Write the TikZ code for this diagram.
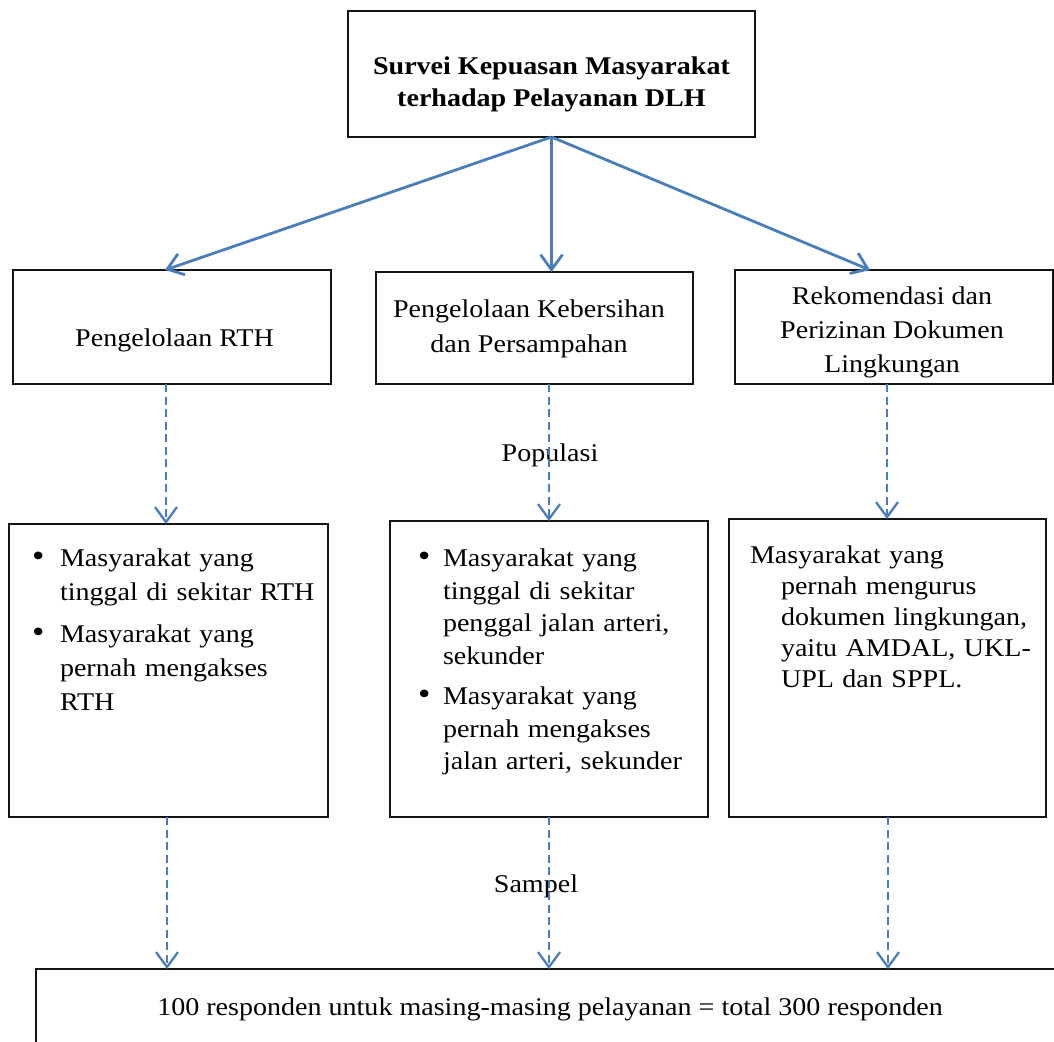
\documentclass[tikz,border=0pt]{standalone}
\usepackage{fontspec}
\setmainfont[FakeStretch=1.1]{Liberation Serif}
\usetikzlibrary{arrows.meta,calc}
\definecolor{arrowblue}{RGB}{74,126,187}
\definecolor{boxline}{RGB}{20,20,20}
\newcommand\bitem[2]{\hangindent=#1\hangafter=1\noindent\makebox[#1][l]{\fontsize{32}{32}\selectfont\textbullet}#2\par}
\begin{document}
\begin{tikzpicture}[x=1pt,y=-1pt,
  box/.style={draw=boxline, line width=1.3pt, inner sep=0pt, outer sep=0pt, fill=white},
  txt/.style={inner sep=0pt, outer sep=0pt, font=\fontsize{25.5}{34}\selectfont},
  solidarrow/.style={draw=arrowblue, line width=2.8pt, -{Straight Barb[length=15pt,width=22pt]}},
  dasharrow/.style={draw=arrowblue, line width=2.3pt, dash pattern=on 8pt off 4.5pt, -{Straight Barb[length=15pt,width=22pt]}}]
\useasboundingbox (0,0) rectangle (1054,1041);
\clip (0,0) rectangle (1054,1041);
\fill[white] (0,0) rectangle (1054,1041);

% boxes
\node[box, minimum width=407pt, minimum height=126pt] (top) at (551.5,74) {};
\node[box, minimum width=318pt, minimum height=114pt] (b1) at (172,327) {};
\node[box, minimum width=317pt, minimum height=112pt] (b2) at (534.5,328) {};
\node[box, minimum width=318pt, minimum height=114pt] (b3) at (894,327) {};
\node[box, minimum width=319pt, minimum height=293pt] (c1) at (168.5,670.5) {};
\node[box, minimum width=318pt, minimum height=296pt] (c2) at (549,669) {};
\node[box, minimum width=317pt, minimum height=298pt] (c3) at (887.5,668) {};
\node[box, anchor=north west, minimum width=1100pt, minimum height=200pt] (bottom) at (36,969) {};

% texts
\node[txt, font=\fontsize{25.5}{32}\selectfont\bfseries, align=center] (toptxt) at (551.5,84)
  {Survei Kepuasan Masyarakat\\terhadap Pelayanan DLH};
\node[txt, align=center] (b1txt) at (174.5,340) {Pengelolaan RTH};
\node[txt, font=\fontsize{25.5}{35}\selectfont, align=center] (b2txt) at (529,329)
  {Pengelolaan Kebersihan\\dan Persampahan};
\node[txt, align=center] (b3txt) at (892,332)
  {Rekomendasi dan\\Perizinan Dokumen\\Lingkungan};

\node[txt, anchor=north west, text width=300pt] (c1txt) at (32,549)
  {\bitem{28pt}{Masyarakat yang\newline tinggal di sekitar RTH}\vspace{8pt}%
   \bitem{28pt}{Masyarakat yang\newline pernah mengakses\newline RTH}};
\node[txt, anchor=north west, text width=300pt, font=\fontsize{25.5}{32.5}\selectfont] (c2txt) at (418,549)
  {\bitem{25pt}{Masyarakat yang\newline tinggal di sekitar\newline penggal jalan arteri,\newline sekunder}\vspace{8pt}%
   \bitem{25pt}{Masyarakat yang\newline pernah mengakses\newline jalan arteri, sekunder}};
\node[txt, anchor=north west, text width=300pt, font=\fontsize{25.5}{31}\selectfont] (c3txt) at (750,546)
  {\hangindent=31pt\hangafter=1\noindent Masyarakat yang\newline pernah mengurus\newline dokumen lingkungan,\newline yaitu AMDAL, UKL-\newline UPL dan SPPL.\par};

\node[txt, anchor=base] (pop) at (550,461) {Populasi};
\node[txt, anchor=base] (samp) at (536,892) {Sampel};
\node[txt, anchor=base] (bottxt) at (550,1015)
  {100 responden untuk masing-masing pelayanan = total 300 responden};

% x positions of connectors
\coordinate (xa) at (165,0);
\coordinate (xc) at (870,0);
\coordinate (xl) at (166,0);
\coordinate (xm) at (549,0);
\coordinate (xr) at (887,0);
\coordinate (xl2) at (167,0);
\coordinate (xr2) at (888,0);

% solid arrows
\draw[solidarrow] (top.south) -- (b1.north -| xa);
\draw[solidarrow] (top.south) -- (top.south |- b2.north);
\draw[solidarrow] (top.south) -- (b3.north -| xc);

% dashed arrows
\draw[dasharrow] (b1.south -| xl) -- (c1.north -| xl);
\draw[dasharrow] (b2.south -| xm) -- (c2.north -| xm);
\draw[dasharrow] (b3.south -| xr) -- (c3.north -| xr);
\draw[dasharrow] (c1.south -| xl2) -- (bottom.north -| xl2);
\draw[dasharrow] (c2.south -| xm) -- (bottom.north -| xm);
\draw[dasharrow] (c3.south -| xr2) -- (bottom.north -| xr2);
\end{tikzpicture}
\end{document}
